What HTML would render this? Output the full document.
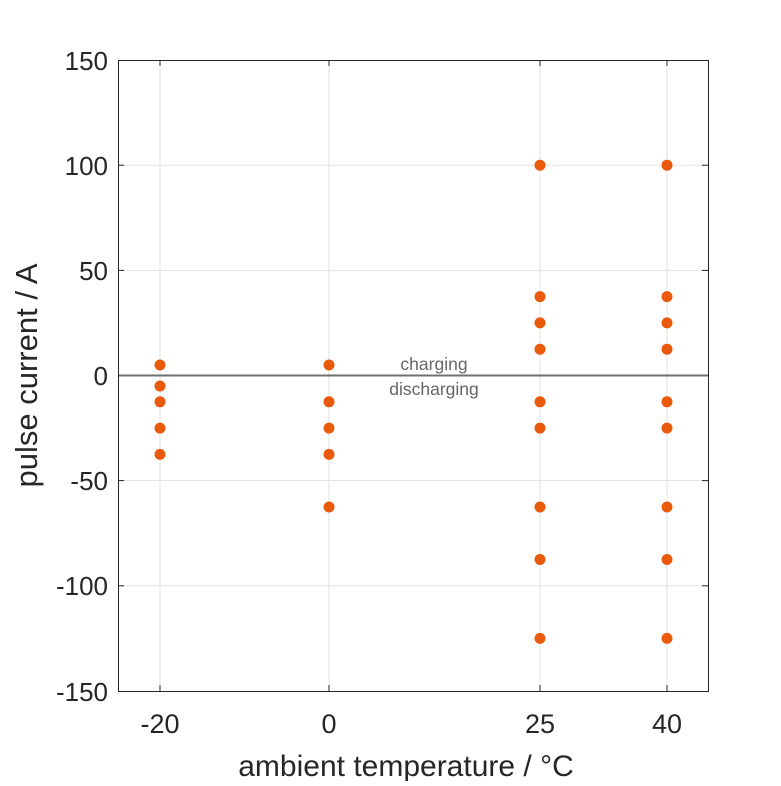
<!DOCTYPE html>
<html><head><style>body{margin:0;background:#fff}</style></head><body>
<svg width="781" height="781" xmlns="http://www.w3.org/2000/svg" font-family="Liberation Sans, Arial, sans-serif">
<rect width="781" height="781" fill="#fff"/>
<g stroke="#e2e2e2" stroke-width="1">
<line x1="160" y1="60" x2="160" y2="691"/><line x1="329" y1="60" x2="329" y2="691"/>
<line x1="540" y1="60" x2="540" y2="691"/><line x1="667" y1="60" x2="667" y2="691"/>
<line x1="118" y1="165.2" x2="708" y2="165.2"/><line x1="118" y1="270.4" x2="708" y2="270.4"/>
<line x1="118" y1="480.6" x2="708" y2="480.6"/><line x1="118" y1="585.8" x2="708" y2="585.8"/>
</g>
<g stroke="#262626" stroke-width="1">
<line x1="160" y1="691" x2="160" y2="685"/><line x1="329" y1="691" x2="329" y2="685"/><line x1="540" y1="691" x2="540" y2="685"/><line x1="667" y1="691" x2="667" y2="685"/>
<line x1="160" y1="60" x2="160" y2="66"/><line x1="329" y1="60" x2="329" y2="66"/><line x1="540" y1="60" x2="540" y2="66"/><line x1="667" y1="60" x2="667" y2="66"/>
<line x1="118" y1="165.2" x2="124" y2="165.2"/><line x1="118" y1="270.4" x2="124" y2="270.4"/><line x1="118" y1="375.5" x2="124" y2="375.5"/><line x1="118" y1="480.6" x2="124" y2="480.6"/><line x1="118" y1="585.8" x2="124" y2="585.8"/>
<line x1="708" y1="165.2" x2="702" y2="165.2"/><line x1="708" y1="270.4" x2="702" y2="270.4"/><line x1="708" y1="480.6" x2="702" y2="480.6"/><line x1="708" y1="585.8" x2="702" y2="585.8"/>
</g>
<line x1="118" y1="375.5" x2="708" y2="375.5" stroke="#707070" stroke-width="2"/>
<rect x="118.5" y="60.5" width="590" height="631" fill="none" stroke="#262626" stroke-width="1"/>
<g fill="#ea5a0c">
<circle cx="160" cy="365" r="5.5"/><circle cx="160" cy="386" r="5.5"/><circle cx="160" cy="401.8" r="5.5"/><circle cx="160" cy="428.1" r="5.5"/><circle cx="160" cy="454.4" r="5.5"/>
<circle cx="329" cy="365" r="5.5"/><circle cx="329" cy="401.8" r="5.5"/><circle cx="329" cy="428.1" r="5.5"/><circle cx="329" cy="454.4" r="5.5"/><circle cx="329" cy="507" r="5.5"/>
<circle cx="540" cy="165.2" r="5.5"/><circle cx="540" cy="296.6" r="5.5"/><circle cx="540" cy="322.9" r="5.5"/><circle cx="540" cy="349.2" r="5.5"/><circle cx="540" cy="401.8" r="5.5"/><circle cx="540" cy="428.1" r="5.5"/><circle cx="540" cy="507" r="5.5"/><circle cx="540" cy="559.5" r="5.5"/><circle cx="540" cy="638.4" r="5.5"/>
<circle cx="667" cy="165.2" r="5.5"/><circle cx="667" cy="296.6" r="5.5"/><circle cx="667" cy="322.9" r="5.5"/><circle cx="667" cy="349.2" r="5.5"/><circle cx="667" cy="401.8" r="5.5"/><circle cx="667" cy="428.1" r="5.5"/><circle cx="667" cy="507" r="5.5"/><circle cx="667" cy="559.5" r="5.5"/><circle cx="667" cy="638.4" r="5.5"/>
</g>
<g fill="#666" font-size="17.5" text-anchor="middle">
<text x="434" y="370">charging</text><text x="434" y="395">discharging</text>
</g>
<g fill="#262626" font-size="26" text-anchor="end">
<text x="108" y="70">150</text><text x="108" y="175">100</text><text x="108" y="280">50</text><text x="108" y="385">0</text><text x="108" y="490">-50</text><text x="108" y="595">-100</text><text x="108" y="701">-150</text>
</g>
<g fill="#262626" font-size="27" text-anchor="middle">
<text x="160" y="733">-20</text><text x="329" y="733">0</text><text x="540" y="733">25</text><text x="667" y="733">40</text>
<text x="406" y="776" font-size="30">ambient temperature / °C</text>
<text transform="translate(37,375.5) rotate(-90)" font-size="31">pulse current / A</text>
</g>
</svg>
</body></html>
